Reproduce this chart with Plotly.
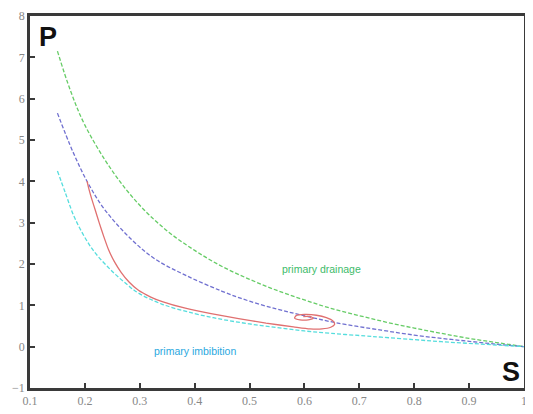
import plotly.graph_objects as go

# primary drainage (green dashed)
drain_s = [0.15, 0.173, 0.2, 0.25, 0.3, 0.35, 0.4, 0.45, 0.5, 0.55, 0.6, 0.65, 0.7, 0.75, 0.8, 0.85, 0.9, 0.95, 1.0]
drain_p = [7.15, 6.22, 5.36, 4.25, 3.42, 2.8, 2.33, 1.94, 1.63, 1.36, 1.13, 0.92, 0.75, 0.59, 0.45, 0.32, 0.2, 0.1, 0.0]

# intermediate scanning curve (blue dashed)
mid_s = [0.15, 0.178, 0.206, 0.237, 0.286, 0.328, 0.383, 0.45, 0.50, 0.55, 0.593, 0.657, 0.74, 0.80, 0.85, 0.90, 0.95, 1.0]
mid_p = [5.65, 4.72, 3.95, 3.3, 2.58, 2.12, 1.73, 1.34, 1.1, 0.91, 0.77, 0.58, 0.4, 0.28, 0.2, 0.13, 0.06, 0.0]

# primary imbibition (cyan dashed)
imb_s = [0.15, 0.165, 0.182, 0.213, 0.25, 0.279, 0.297, 0.34, 0.40, 0.45, 0.50, 0.55, 0.60, 0.65, 0.71, 0.74, 0.80, 0.85, 0.90, 0.95, 1.0]
imb_p = [4.25, 3.7, 3.1, 2.37, 1.82, 1.48, 1.3, 1.03, 0.8, 0.66, 0.55, 0.46, 0.38, 0.32, 0.26, 0.23, 0.17, 0.12, 0.08, 0.04, 0.0]

# hysteresis path (red solid)
path_s = [0.204, 0.208, 0.213, 0.219, 0.226, 0.234, 0.243, 0.254, 0.266, 0.280, 0.297, 0.32, 0.341, 0.383, 0.43, 0.48, 0.53, 0.58, 0.61, 0.632, 0.648, 0.655, 0.652, 0.64, 0.622, 0.60, 0.585, 0.582, 0.592, 0.607, 0.616, 0.61, 0.598]
path_p = [4.0, 3.78, 3.55, 3.3, 3.0, 2.68, 2.35, 2.05, 1.8, 1.57, 1.37, 1.2, 1.09, 0.93, 0.8, 0.68, 0.57, 0.48, 0.43, 0.43, 0.47, 0.54, 0.62, 0.7, 0.76, 0.78, 0.75, 0.69, 0.65, 0.65, 0.69, 0.73, 0.73]

x_ticks = [0.1, 0.2, 0.3, 0.4, 0.5, 0.6, 0.7, 0.8, 0.9, 1.0]
x_labels = ["0.1", "0.2", "0.3", "0.4", "0.5", "0.6", "0.7", "0.8", "0.9", "1"]
y_ticks = [-1, 0, 1, 2, 3, 4, 5, 6, 7, 8]

fig = go.Figure()
dash = "4px,2px"
fig.add_trace(go.Scatter(x=drain_s, y=drain_p, mode="lines", line=dict(color="#66cc66", width=1.3, dash=dash, shape="spline")))
fig.add_trace(go.Scatter(x=mid_s, y=mid_p, mode="lines", line=dict(color="#7070d0", width=1.3, dash=dash, shape="spline")))
fig.add_trace(go.Scatter(x=imb_s, y=imb_p, mode="lines", line=dict(color="#55dddd", width=1.3, dash=dash, shape="spline")))
fig.add_trace(go.Scatter(x=path_s, y=path_p, mode="lines", line=dict(color="#e07070", width=1.3, shape="spline", smoothing=0.6)))

fig.add_annotation(x=0.631, y=1.89, text="primary drainage", showarrow=False,
                   font=dict(family="Arial, Liberation Sans", size=10.5, color="#3dbb6a"))
fig.add_annotation(x=0.401, y=-0.1, text="primary imbibition", showarrow=False,
                   font=dict(family="Arial, Liberation Sans", size=10.5, color="#2aa8e0"))
fig.add_annotation(x=0.112, y=7.9, xanchor="left", yanchor="top", text="<b>P</b>", showarrow=False,
                   font=dict(family="Arial, Liberation Sans", size=27, color="#111111"))
fig.add_annotation(x=0.997, y=-0.2, xanchor="right", yanchor="top", text="<b>S</b>", showarrow=False,
                   font=dict(family="Arial, Liberation Sans", size=27, color="#111111"))

axis_common = dict(showgrid=False, zeroline=False, showline=True, linecolor="#3a3a3a", linewidth=2.5,
                   mirror=True, ticks="inside", ticklen=5, tickwidth=2, tickcolor="#3a3a3a",
                   tickfont=dict(family="Liberation Serif, Times New Roman", size=12, color="#888888"))

fig.update_xaxes(range=[0.1, 1.0001], tickvals=x_ticks, ticktext=x_labels, **axis_common)
fig.update_yaxes(range=[-1, 8], tickvals=y_ticks, **axis_common)

fig.update_layout(width=525, height=406, showlegend=False, plot_bgcolor="white", paper_bgcolor="white",
                  margin=dict(l=22, r=9, t=8, b=26, autoexpand=False))
fig.write_html("out.html")
